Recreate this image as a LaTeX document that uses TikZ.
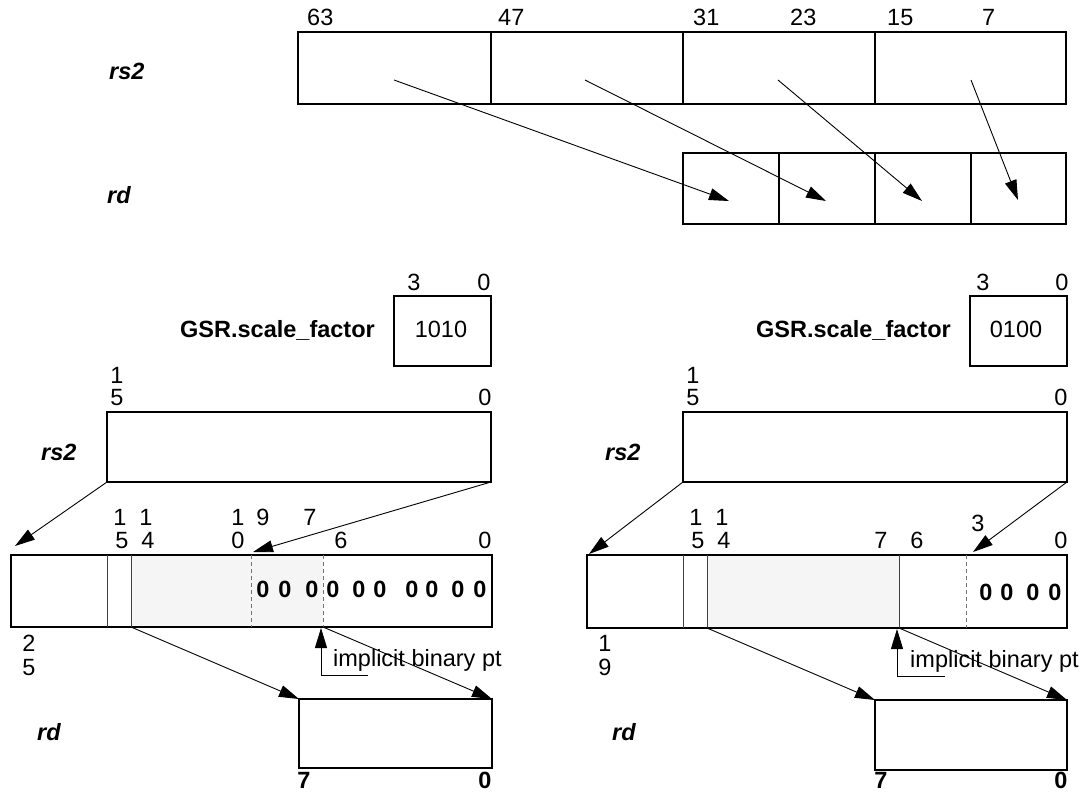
\documentclass[tikz,border=0pt]{standalone}
\usepackage{fontspec}
\setmainfont{Liberation Sans}
\usetikzlibrary{arrows.meta}
\newcommand{\lblfont}{\fontsize{23.5}{27}\selectfont}
\begin{document}
\begin{tikzpicture}[x=1pt,y=-1pt,
  bbox/.style={draw, line width=2.7pt, inner sep=0pt, outer sep=0pt, anchor=north west},
  div/.style={line width=1.3pt},
  thindiv/.style={line width=0.9pt, black!75},
  dashdiv/.style={line width=0.9pt, black!55, dash pattern=on 4pt off 3pt},
  arr/.style={line width=0.9pt, -{Triangle[length=20pt,width=12pt]}},
  num/.style={inner sep=0pt, anchor=base, font=\lblfont},
  numw/.style={inner sep=0pt, anchor=base west, font=\lblfont},
  bnum/.style={inner sep=0pt, anchor=base, font=\lblfont\bfseries},
  reg/.style={inner sep=0pt, anchor=base west, font=\lblfont\bfseries\itshape},
  shade/.style={fill=black!4}
]
\useasboundingbox (0,0) rectangle (1087,792);

% ================= TOP =================
\node[reg] (trs2) at (109,80) {rs2};
\node[reg] (trd) at (107,203) {rd};
\node[numw] (t63) at (307,26) {63};
\node[numw] (t47) at (498,26) {47};
\node[numw] (t31) at (693,26) {31};
\node[numw] (t23) at (790,26) {23};
\node[numw] (t15) at (887,26) {15};
\node[numw] (t7) at (982,26) {7};
\node[bbox, minimum width=768pt, minimum height=72pt] (TR) at (298,32) {};
\draw[div] (491,32) -- (491,104);
\draw[div] (683,32) -- (683,104);
\draw[div] (875,32) -- (875,104);
\node[bbox, minimum width=383pt, minimum height=71pt] (TD) at (683,153) {};
\draw[div] (779,153) -- (779,224);
\draw[div] (875,153) -- (875,224);
\draw[div] (971,153) -- (971,224);
\coordinate (ta1) at (394,80); \coordinate (tb1) at (729,201);
\coordinate (ta2) at (585,80); \coordinate (tb2) at (826,201);
\coordinate (ta3) at (778,80); \coordinate (tb3) at (922,201);
\coordinate (ta4) at (971,80); \coordinate (tb4) at (1018,200);
\draw[arr] (ta1) -- (tb1);
\draw[arr] (ta2) -- (tb2);
\draw[arr] (ta3) -- (tb3);
\draw[arr] (ta4) -- (tb4);

% ================= BOTTOM LEFT =================
\node[num] (L3) at (414,290) {3};
\node[num] (L0a) at (484,290) {0};
\node[bbox, minimum width=97pt, minimum height=70pt] (LG) at (394,296) {};
\node[num] (Lgv) at (441,337) {1010};
\node[inner sep=0pt, anchor=base east, font=\lblfont\bfseries] (Lgl) at (375,337) {GSR.scale\_factor};
\node[num] (L15a) at (117,383) {1};
\node[num] (L15b) at (117,405) {5};
\node[num] (L0b) at (485,405) {0};
\node[reg] (Lrs2) at (41,460) {rs2};
\node[bbox, minimum width=384pt, minimum height=70pt] (LR) at (107,412) {};
% bit labels
\node[num] (Lm1) at (120,525) {1};
\node[num] (Lm2) at (122,548) {5};
\node[num] (Lm3) at (146,525) {1};
\node[num] (Lm4) at (148,548) {4};
\node[num] (Lm5) at (238,525) {1};
\node[num] (Lm6) at (238,548) {0};
\node[num] (Lm7) at (263,525) {9};
\node[num] (Lm8) at (310,525) {7};
\node[num] (Lm9) at (341,548) {6};
\node[num] (Lm10) at (485,548) {0};
% middle box
\fill[shade] (131,555) rectangle (323,627);
\node[bbox, minimum width=481pt, minimum height=72pt] (LM) at (11,555) {};
\draw[thindiv] (107,555) -- (107,627);
\draw[thindiv] (131,555) -- (131,627);
\draw[dashdiv] (251,555) -- (251,627);
\draw[dashdiv] (323,555) -- (323,627);
\foreach \x [count=\i] in {263,285,312,333,359,380,412,432,458,480}
  \node[bnum] (Lz\i) at (\x,597) {0};
\node[num] (L25a) at (29,651) {2};
\node[num] (L25b) at (29,675) {5};
\node[reg] (Lrd) at (37,740) {rd};
\node[bbox, minimum width=193pt, minimum height=69pt] (LD) at (299,699) {};
\node[bnum] (L7) at (304,788) {7};
\node[bnum] (L0c) at (485,788) {0};
\node[numw] (Libp) at (333,666) {implicit binary pt};
% connectors
\coordinate (La1) at (107,482); \coordinate (Lb1) at (15,546);
\coordinate (La2) at (491,482); \coordinate (Lb2) at (253,552);
\coordinate (La3) at (131,627); \coordinate (Lb3) at (299,699);
\coordinate (La4) at (323,627); \coordinate (Lb4) at (492,699);
\draw[arr] (La1) -- (Lb1);
\draw[arr] (La2) -- (Lb2);
\draw[arr] (La3) -- (Lb3);
\draw[arr] (La4) -- (Lb4);
\coordinate (Lp1) at (368,675); \coordinate (Lp2) at (321,675); \coordinate (Lp3) at (321,628);
\draw[arr] (Lp1) -- (Lp2) -- (Lp3);

% ================= BOTTOM RIGHT =================
\node[num] (R3) at (983,290) {3};
\node[num] (R0a) at (1062,290) {0};
\node[bbox, minimum width=97pt, minimum height=70pt] (RG) at (970,296) {};
\node[num] (Rgv) at (1016,337) {0100};
\node[inner sep=0pt, anchor=base east, font=\lblfont\bfseries] (Rgl) at (951,337) {GSR.scale\_factor};
\node[num] (R15a) at (693,383) {1};
\node[num] (R15b) at (693,405) {5};
\node[num] (R0b) at (1061,405) {0};
\node[reg] (Rrs2) at (605,460) {rs2};
\node[bbox, minimum width=384pt, minimum height=70pt] (RR) at (683,412) {};
\node[num] (Rm1) at (696,525) {1};
\node[num] (Rm2) at (698,548) {5};
\node[num] (Rm3) at (722,525) {1};
\node[num] (Rm4) at (724,548) {4};
\node[num] (Rm5) at (978,531) {3};
\node[num] (Rm6) at (881,548) {7};
\node[num] (Rm7) at (917,548) {6};
\node[num] (Rm8) at (1061,548) {0};
\fill[shade] (707,555) rectangle (899,628);
\node[bbox, minimum width=480pt, minimum height=73pt] (RM) at (587,555) {};
\draw[thindiv] (683,555) -- (683,628);
\draw[thindiv] (707,555) -- (707,628);
\draw[thindiv] (899,555) -- (899,628);
\draw[dashdiv] (966,555) -- (966,628);
\foreach \x [count=\i] in {986,1007,1033,1055}
  \node[bnum] (Rz\i) at (\x,600) {0};
\node[num] (R19a) at (605,651) {1};
\node[num] (R19b) at (605,675) {9};
\node[reg] (Rrd) at (612,740) {rd};
\node[bbox, minimum width=192pt, minimum height=70pt] (RD) at (875,700) {};
\node[bnum] (R7) at (881,788) {7};
\node[bnum] (R0c) at (1061,788) {0};
\node[numw] (Ribp) at (910,667) {implicit binary pt};
\coordinate (Ra1) at (683,482); \coordinate (Rb1) at (589,554);
\coordinate (Ra2) at (1067,482); \coordinate (Rb2) at (973,552);
\coordinate (Ra3) at (707,628); \coordinate (Rb3) at (875,700);
\coordinate (Ra4) at (899,628); \coordinate (Rb4) at (1067,700);
\draw[arr] (Ra1) -- (Rb1);
\draw[arr] (Ra2) -- (Rb2);
\draw[arr] (Ra3) -- (Rb3);
\draw[arr] (Ra4) -- (Rb4);
\coordinate (Rp1) at (945,676); \coordinate (Rp2) at (897,676); \coordinate (Rp3) at (897,629);
\draw[arr] (Rp1) -- (Rp2) -- (Rp3);
\end{tikzpicture}
\end{document}
